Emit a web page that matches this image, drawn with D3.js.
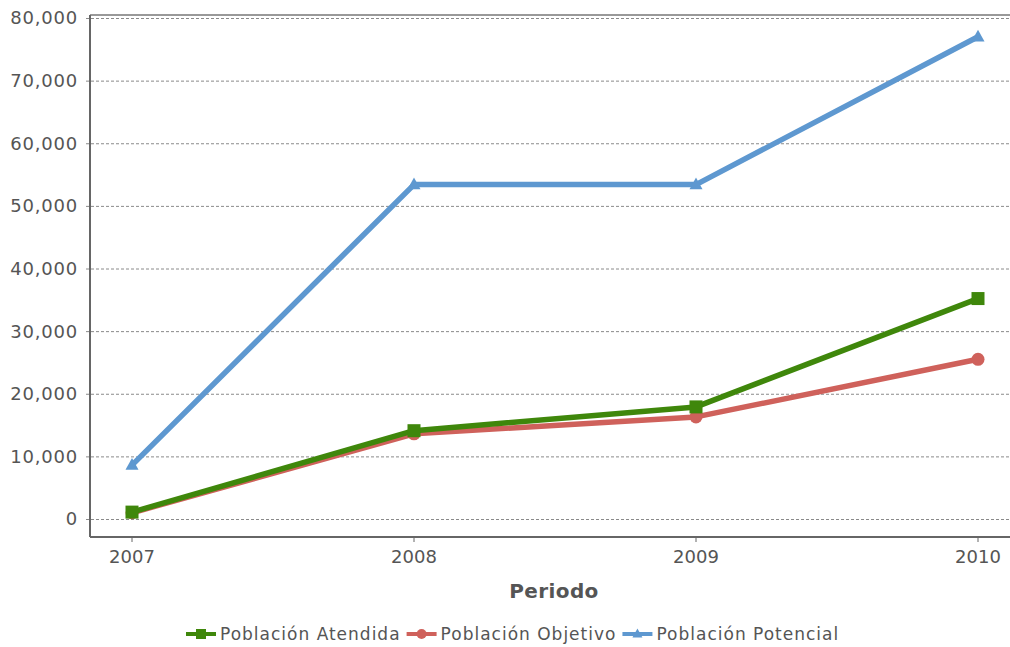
<!DOCTYPE html>
<html>
<head>
<meta charset="utf-8">
<script src="https://cdn.jsdelivr.net/npm/d3@7"></script>
<style>
  body { margin: 0; background: #fff; }
  svg text { font-family: "DejaVu Sans", Verdana, sans-serif; }
</style>
</head>
<body>
<div id="chart"></div>
<script>
// data
const periods = ["2007", "2008", "2009", "2010"];
const atendida = [1100, 14100, 17900, 35200];
const objetivo = [1000, 13600, 16300, 25500];
const potencial = [8600, 53400, 53400, 77000];
const yTicks = [0, 10000, 20000, 30000, 40000, 50000, 60000, 70000, 80000];
const seriesNames = ["Población Atendida", "Población Objetivo", "Población Potencial"];

const series = [
  {name: seriesNames[0], values: atendida, color: "#3f870b", marker: "square"},
  {name: seriesNames[1], values: objetivo, color: "#cf615b", marker: "circle"},
  {name: seriesNames[2], values: potencial, color: "#5e98d0", marker: "triangle"}
];

const W = 1010, H = 647;
const frame = {left: 90, right: 1010, top: 15, bottom: 537};

const svg = d3.select("#chart").append("svg")
    .attr("width", W).attr("height", H);

const x = d3.scalePoint().domain(periods).range([132, 978]);
const y = d3.scaleLinear().domain([0, 80000]).range([519, 18]);

// grid
svg.append("g").selectAll("line").data(yTicks).enter().append("line")
    .attr("x1", frame.left - 4).attr("x2", frame.right)
    .attr("y1", d => y(d) + 0.5).attr("y2", d => y(d) + 0.5)
    .attr("stroke", "#8a8a8a").attr("stroke-width", 1)
    .attr("stroke-dasharray", "3,2");

// frame lines
svg.append("line").attr("x1", frame.left).attr("x2", frame.right)
    .attr("y1", frame.top).attr("y2", frame.top)
    .attr("stroke", "#777").attr("stroke-width", 1.5);
svg.append("line").attr("x1", frame.left).attr("x2", frame.left)
    .attr("y1", frame.top).attr("y2", frame.bottom)
    .attr("stroke", "#666").attr("stroke-width", 2);
svg.append("line").attr("x1", frame.left).attr("x2", frame.right)
    .attr("y1", frame.bottom).attr("y2", frame.bottom)
    .attr("stroke", "#666").attr("stroke-width", 2);

// y labels
const fmt = d3.format(",");
svg.append("g").selectAll("text").data(yTicks).enter().append("text")
    .attr("x", 78).attr("y", d => y(d))
    .attr("dy", "0.36em")
    .attr("text-anchor", "end")
    .attr("fill", "#555").attr("font-size", 18)
    .attr("letter-spacing", 0.8)
    .text(d => fmt(d));

// x ticks + labels
const xg = svg.append("g");
xg.selectAll("line").data(periods).enter().append("line")
    .attr("x1", d => x(d)).attr("x2", d => x(d))
    .attr("y1", frame.bottom).attr("y2", frame.bottom + 5)
    .attr("stroke", "#666").attr("stroke-width", 1);
xg.selectAll("text").data(periods).enter().append("text")
    .attr("x", d => x(d)).attr("y", 563)
    .attr("text-anchor", "middle")
    .attr("fill", "#555").attr("font-size", 18)
    .text(d => d);

svg.append("text")
    .attr("x", 554).attr("y", 598)
    .attr("text-anchor", "middle")
    .attr("fill", "#555").attr("font-size", 20).attr("font-weight", "bold")
    .attr("letter-spacing", 0.4)
    .text("Periodo");

// markers
function drawMarker(g, type, color, cx, cy, s) {
  if (type === "square") {
    g.append("rect").attr("x", cx - s / 2).attr("y", cy - s / 2)
      .attr("width", s).attr("height", s).attr("fill", color);
  } else if (type === "circle") {
    g.append("circle").attr("cx", cx).attr("cy", cy).attr("r", s / 2).attr("fill", color);
  } else {
    const h = s * 0.9;
    g.append("path")
      .attr("d", `M${cx},${cy - h * 0.6}L${cx + s / 2},${cy + h * 0.4}L${cx - s / 2},${cy + h * 0.4}Z`)
      .attr("fill", color);
  }
}

const line = d3.line().x((d, i) => x(periods[i])).y(d => y(d));

// draw in reverse order so green sits on top
series.slice().reverse().forEach(s => {
  const g = svg.append("g");
  g.append("path").datum(s.values)
    .attr("d", line)
    .attr("fill", "none")
    .attr("stroke", s.color)
    .attr("stroke-width", 5.5)
    .attr("stroke-linejoin", "round");
  s.values.forEach((v, i) => drawMarker(g, s.marker, s.color, x(periods[i]), y(v), 13));
});

// legend
const legend = svg.append("g");
let lx = 186;
const ly = 634;
series.forEach(s => {
  const g = legend.append("g");
  g.append("line").attr("x1", lx).attr("x2", lx + 30)
    .attr("y1", ly).attr("y2", ly)
    .attr("stroke", s.color).attr("stroke-width", 4);
  drawMarker(g, s.marker, s.color, lx + 15, ly, 10);
  const t = g.append("text").attr("x", lx + 34).attr("y", ly)
    .attr("dy", "0.36em")
    .attr("fill", "#555").attr("font-size", 17)
    .attr("letter-spacing", 1)
    .text(s.name);
  lx += 34 + t.node().getComputedTextLength() + 6;
});
</script>
</body>
</html>
